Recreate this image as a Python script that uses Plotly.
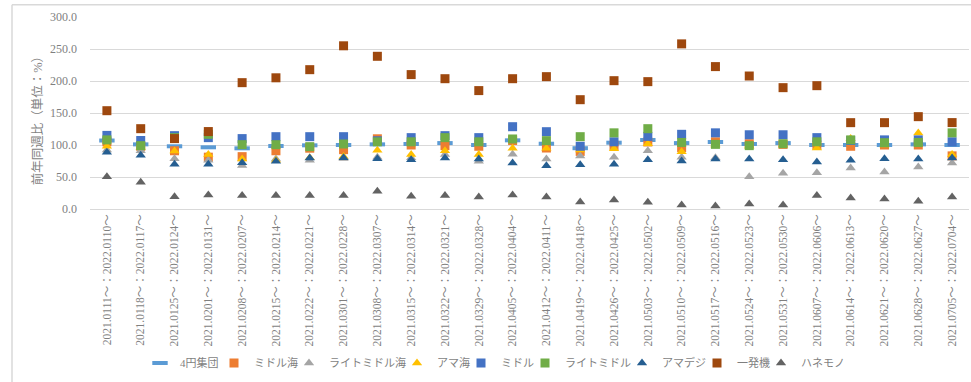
import plotly.graph_objects as go

weeks_2021 = ["0111","0118","0125","0201","0208","0215","0222","0301","0308","0315","0322","0329","0405",
              "0412","0419","0426","0503","0510","0517","0524","0531","0607","0614","0621","0628","0705"]
weeks_2022 = ["0110","0117","0124","0131","0207","0214","0221","0228","0307","0314","0321","0328","0404",
              "0411","0418","0425","0502","0509","0516","0523","0530","0606","0613","0620","0627","0704"]
categories = [f"2021.{a}～：2022.{b}～" for a, b in zip(weeks_2021, weeks_2022)]

yen4_group = [107, 101, 98, 96.4, 94.8, 98.4, 99.5, 100, 101, 101.6, 103, 100, 107.3, 102, 95, 103.6, 107.8, 103, 104.7, 101.6, 103, 100, 100, 100, 101, 100]
middle_sea = [105, 98, 91, 81, 81.8, 91, 95, 92.7, 109.7, 100, 99, 98, 107, 95.3, 90, 99, 104.7, 96, 105, 102, 101, 100, 98, 100, 100, 83]
lightmiddle_sea = [92, 91, 78.6, 76, 68, 78, 76, 79, 81, 80, 85, 74.5, 85.4, 78, 82.8, 81, 91, 81, 80, 50.5, 55.7, 56.8, 64, 57.8, 65.6, 72]
ama_sea = [98, 96, 90.6, 85, 78, 76, 80, 82, 91.7, 85, 91, 85, 94.8, 94.8, 92, 94, 102, 89.6, 100, 98, 100, 95.3, 110, 100, 118.7, 85]
middle = [115, 107, 114.6, 111.5, 110, 113, 113, 113, 106.6, 111.5, 114.6, 111.5, 128.6, 120.8, 98, 105, 113.5, 116.7, 119, 116, 116, 111.5, 107, 108, 108, 105]
lightmiddle = [108, 99, 111.5, 116.7, 100.5, 100.5, 97.4, 101.6, 105, 105, 111.5, 105, 109.4, 106.8, 113, 119, 125.5, 104, 101, 99, 102, 105, 108, 103.6, 104, 119]
ama_digi = [88.5, 84, 70, 70, 72.4, 74.5, 79.7, 80, 78.7, 77, 79.7, 78, 72, 67.7, 69, 70, 77, 75, 78, 78, 77, 73.4, 76, 78.6, 78, 79.7]
ippatsu = [153.6, 125.5, 110, 121, 197.4, 205, 217.7, 255, 238.6, 210, 203.6, 185, 203.6, 206.8, 170.8, 200.5, 199, 258, 222.5, 207.8, 189.6, 192.7, 134.9, 134.9, 144.3, 135]
hanemono = [50.5, 41.7, 19.3, 22, 21, 21, 21, 21, 27.6, 20, 21, 18.8, 21.9, 18.8, 11, 14, 10.4, 6.3, 4.7, 7.8, 6.3, 21, 17, 15.6, 12, 18.8]

y_ticks = [0, 50, 100, 150, 200, 250, 300]

W, H = 971, 382
L, R, T, B = 90, 2, 16.7, 173.3
pw, ph = W - L - R, H - T - B

FONT = "Liberation Serif, Noto Sans CJK JP"
GRAY = "#7f7f7f"

series = [
    ("4円集団", yen4_group, "line-ew", "#5B9BD5", 11),
    ("ミドル海", middle_sea, "square", "#ED7D31", 9),
    ("ライトミドル海", lightmiddle_sea, "triangle-up", "#A5A5A5", 9),
    ("アマ海", ama_sea, "triangle-up", "#FFC000", 9),
    ("ミドル", middle, "square", "#4472C4", 9),
    ("ライトミドル", lightmiddle, "square", "#70AD47", 9),
    ("アマデジ", ama_digi, "triangle-up", "#255E91", 9),
    ("一発機", ippatsu, "square", "#9E480E", 9),
    ("ハネモノ", hanemono, "triangle-up", "#636363", 9),
]
# legend symbol centre positions (px)
legend_sym_x = [160, 234, 309, 417, 481, 545, 642, 717, 781]

fig = go.Figure()
layout_legends = {}
for i, (name, vals, sym, col, size) in enumerate(series):
    lname = "legend" if i == 0 else f"legend{i+1}"
    if sym == "line-ew":
        marker = dict(symbol=sym, size=size, line=dict(color=col, width=4))
    else:
        marker = dict(symbol=sym, size=size, color=col, line=dict(width=0))
    fig.add_trace(go.Scatter(x=categories, y=vals, mode="markers", name=name,
                             marker=marker, legend=lname, showlegend=True))
    layout_legends[lname] = dict(
        orientation="h", xref="container", yref="container",
        x=(legend_sym_x[i] - 20) / W, y=1 - 363 / H,
        xanchor="left", yanchor="middle",
        font=dict(family=FONT, size=11, color=GRAY),
        bgcolor="rgba(0,0,0,0)", borderwidth=0, itemwidth=30,
    )

def px_x(px):
    return (px - L) / pw

def px_y(py):
    return (H - B - py) / ph

fig.update_layout(
    width=W, height=H,
    margin=dict(l=L, r=R, t=T, b=B, autoexpand=False),
    paper_bgcolor="white", plot_bgcolor="white",
    font=dict(family=FONT, color=GRAY, size=12),
    xaxis=dict(type="category", range=[-0.5, len(categories) - 0.5], tickangle=-90,
               showgrid=False, showline=False, ticks="", automargin=False,
               tickfont=dict(family=FONT, size=11.5, color=GRAY), ticklabelstandoff=2),
    yaxis=dict(range=[0, 300], tickvals=y_ticks, tickformat=".1f", showgrid=True,
               gridcolor="#d9d9d9", gridwidth=1, zeroline=True, zerolinecolor="#d9d9d9",
               zerolinewidth=1, showline=False, ticks="", automargin=False,
               tickfont=dict(family=FONT, size=12, color=GRAY), ticklabelstandoff=12),
    annotations=[dict(text="前年同週比（単位：%）", xref="paper", yref="paper",
                      x=px_x(37), y=px_y(118), textangle=-90, showarrow=False,
                      xanchor="center", yanchor="middle",
                      font=dict(family=FONT, size=12.5, color=GRAY))],
    shapes=[
        dict(type="line", xref="paper", yref="paper", x0=px_x(12), x1=px_x(972),
             y0=px_y(4.5), y1=px_y(4.5), line=dict(color="#d9d9d9", width=1.5)),
        dict(type="line", xref="paper", yref="paper", x0=px_x(12), x1=px_x(12),
             y0=px_y(4.5), y1=px_y(383), line=dict(color="#d9d9d9", width=1.5)),
    ],
    **layout_legends,
)

fig.write_html("out.html")
